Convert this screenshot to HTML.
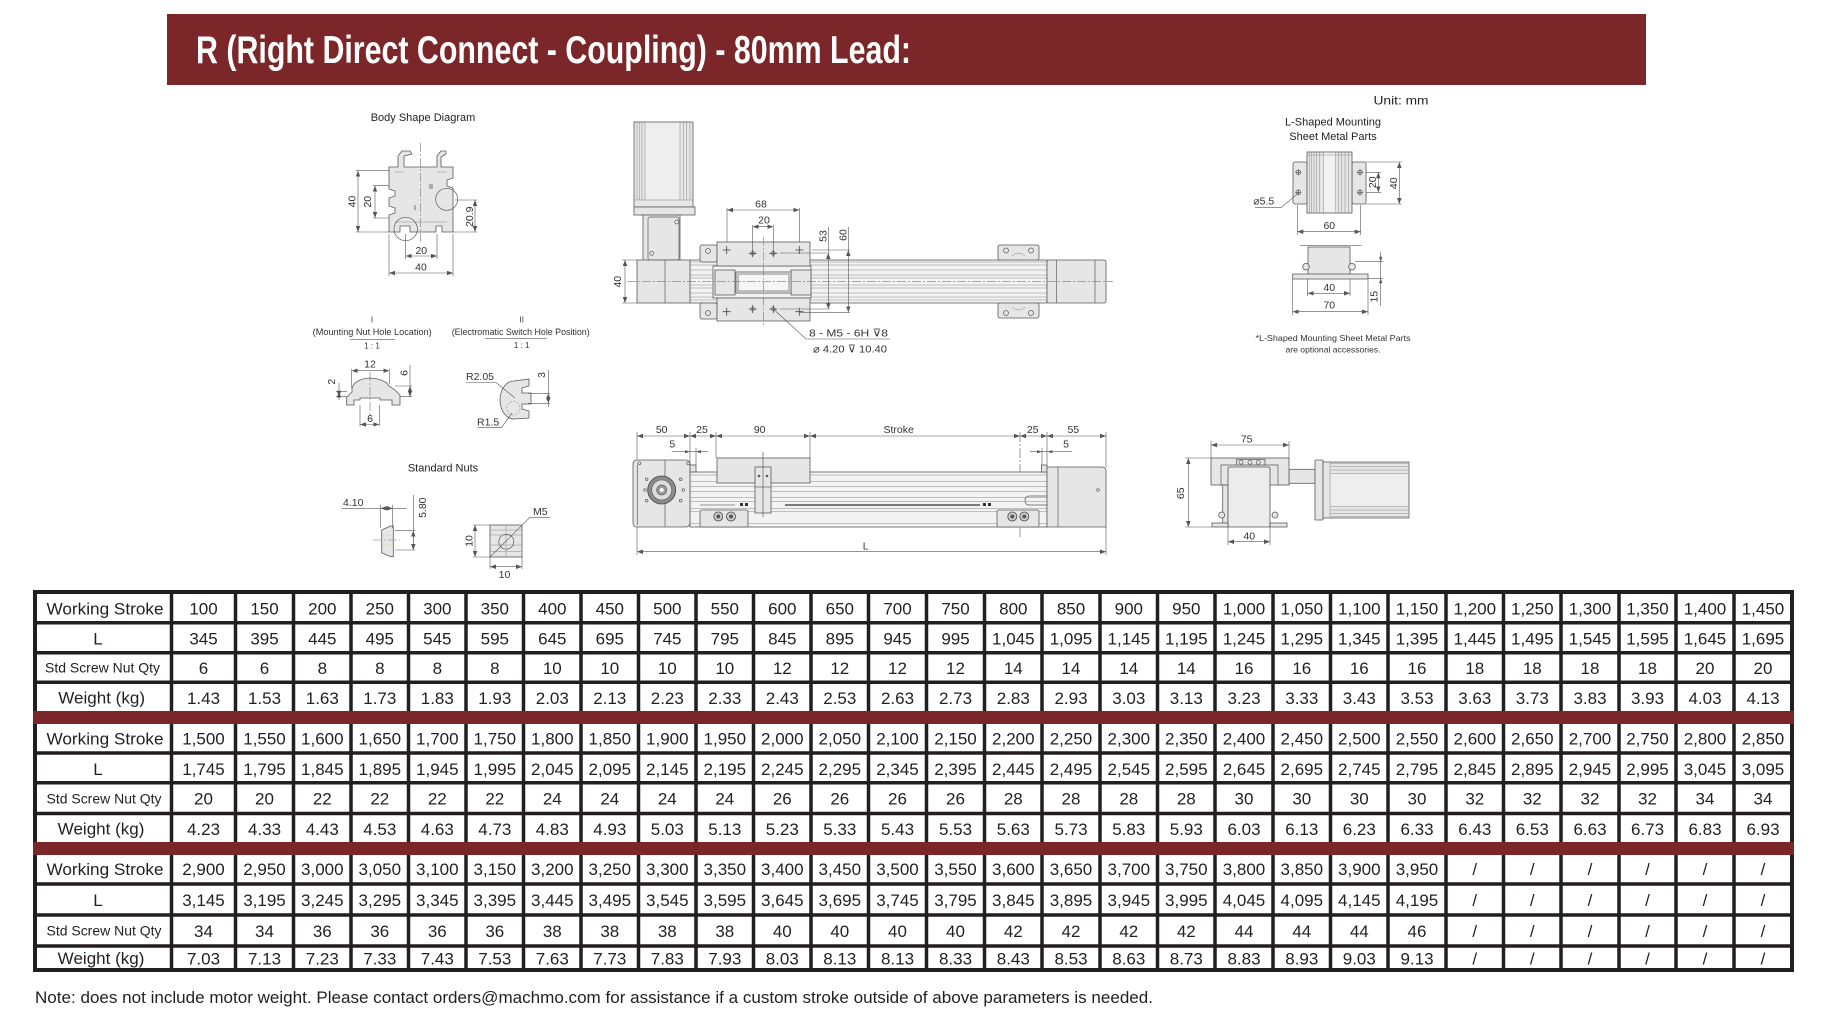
<!DOCTYPE html>
<html><head><meta charset="utf-8"><title>R (Right Direct Connect - Coupling) - 80mm Lead</title>
<style>
html,body{margin:0;padding:0;background:#fff;width:1826px;height:1020px;overflow:hidden}
svg{display:block}
.o{fill:#e6e6e6;stroke:#5a5a5a;stroke-width:.8}
.w{fill:#f3f3f3;stroke:#5a5a5a;stroke-width:.8}
.l{fill:none;stroke:#5a5a5a;stroke-width:.7}
.f{fill:none;stroke:#8a8a8a;stroke-width:.5}
.d{fill:none;stroke:#555;stroke-width:.6}
.da{fill:none;stroke:#555;stroke-width:.6;marker-start:url(#a);marker-end:url(#a)}
.c{fill:none;stroke:#777;stroke-width:.6;stroke-dasharray:9 2 2 2}
.t{font-family:"Liberation Sans","DejaVu Sans",sans-serif;font-size:10.5px;fill:#333}
.s{font-family:"Liberation Sans",sans-serif;font-size:11px;fill:#222}
.n{font-family:"Liberation Sans",sans-serif;font-size:17px;fill:#231f20;text-anchor:middle}
.lb{font-family:"Liberation Sans",sans-serif;font-size:17px;fill:#231f20}
.ls{font-family:"Liberation Sans",sans-serif;font-size:14px;fill:#231f20}
</style></head>
<body>
<svg width="1826" height="1020" viewBox="0 0 1826 1020" xmlns="http://www.w3.org/2000/svg">
<defs>
<marker id="a" viewBox="0 0 8 6" refX="8" refY="3" markerWidth="6" markerHeight="4.5" markerUnits="userSpaceOnUse" orient="auto-start-reverse"><path d="M0,0L8,3L0,6z" fill="#555"/></marker>
</defs>
<rect width="1826" height="1020" fill="#fff"/>

<!-- Header -->
<rect x="167" y="14" width="1479" height="71" fill="#7b2628"/>
<text x="196" y="63" font-family="Liberation Sans, sans-serif" font-size="39" font-weight="bold" fill="#fff" textLength="715" lengthAdjust="spacingAndGlyphs">R (Right Direct Connect - Coupling) - 80mm Lead:</text>

<!-- ============ Body shape diagram ============ -->
<text class="s" x="423" y="121" text-anchor="middle">Body Shape Diagram</text>
<path class="o" d="M389,167 L398,167 L398,156 L402,151 L410,151 L412,154 L404,156 L404,167 L437,167 L437,156 L441,151 L446,151 L446,154 L441,157 L441,167 L453,167 L453,178 L447,180 L447,186 L453,188 L453,232 L442,232 L442,226 L436,226 L436,232 L410,232 L410,226 L400,226 L400,232 L389,232 L389,215 L395,213 L395,208 L389,206 L389,198 L395,196 L395,191 L389,189 Z"/>
<path class="f" d="M395,172 L404,172 M437,172 L447,172 M395,222 L447,222"/>
<line class="c" x1="420.7" y1="143" x2="420.7" y2="243"/>
<circle class="l" cx="405.7" cy="229" r="11.7"/>
<circle class="l" cx="446.7" cy="199.3" r="11"/>
<text class="t" style="font-size:7px" x="414" y="210">I</text>
<text class="t" style="font-size:7px" x="429" y="189">II</text>
<path class="d" d="M356,170.7H389M356,232H389M373,185.7H389M373,218H389M455,200H477M453,232H477M405.7,234V259M437,234V259M389,234V276M453,234V276"/>
<line class="da" x1="358" y1="170.7" x2="358" y2="232"/>
<line class="da" x1="375" y1="185.7" x2="375" y2="218"/>
<line class="da" x1="475" y1="200" x2="475" y2="232"/>
<line class="da" x1="405.7" y1="256" x2="437" y2="256"/>
<line class="da" x1="389" y1="273" x2="453" y2="273"/>
<text class="t" text-anchor="middle" transform="translate(355.5,201.5) rotate(-90)">40</text>
<text class="t" text-anchor="middle" transform="translate(371,201.7) rotate(-90)">20</text>
<text class="t" text-anchor="middle" transform="translate(473,216.7) rotate(-90)">20.9</text>
<text class="t" x="421.3" y="254" text-anchor="middle">20</text>
<text class="t" x="421" y="270.7" text-anchor="middle">40</text>

<!-- detail labels -->
<text class="t" style="font-size:8px" x="372" y="322.5" text-anchor="middle">I</text>
<text class="t" style="font-size:9px" x="312.7" y="335" textLength="119" lengthAdjust="spacingAndGlyphs">(Mounting Nut Hole Location)</text>
<line class="d" x1="350" y1="339.3" x2="395" y2="339.3"/>
<text class="t" style="font-size:8px" x="372" y="348.3" text-anchor="middle">1 : 1</text>
<text class="t" style="font-size:8px" x="521.7" y="322.5" text-anchor="middle">II</text>
<text class="t" style="font-size:9px" x="451.7" y="335" textLength="138" lengthAdjust="spacingAndGlyphs">(Electromatic Switch Hole Position)</text>
<line class="d" x1="485" y1="338.3" x2="546.7" y2="338.3"/>
<text class="t" style="font-size:8px" x="521.7" y="348" text-anchor="middle">1 : 1</text>

<!-- detail I -->
<path class="o" d="M346.7,405 L346.7,397 L352,392 L352,388 Q355,379 370,378 Q385,379 389,386 L395,390 L400,395 L400,405 L392,405 L392,400 L380,400 L380,398 L360,398 L360,400 L354,400 L354,405 Z"/>
<line class="c" x1="370" y1="372" x2="370" y2="420"/>
<path class="d" d="M351.7,369V388M389.3,369V384M395,386H412M400,396.7H412M336,391.7H347M336,396.7H347M360,405V426M379.3,405V426"/>
<line class="da" x1="351.7" y1="370.7" x2="389.3" y2="370.7"/>
<line class="da" x1="410" y1="386" x2="410" y2="396.7"/>
<line class="d" x1="410" y1="365" x2="410" y2="386"/>
<line class="da" x1="339" y1="391.7" x2="339" y2="396.7"/>
<line class="d" x1="339" y1="383" x2="339" y2="400"/>
<line class="da" x1="360" y1="424.5" x2="379.3" y2="424.5"/>
<text class="t" x="370" y="367.5" text-anchor="middle">12</text>
<text class="t" text-anchor="middle" transform="translate(407.3,373) rotate(-90)">6</text>
<text class="t" text-anchor="middle" transform="translate(335,381.7) rotate(-90)">2</text>
<text class="t" x="370" y="422" text-anchor="middle">6</text>

<!-- detail II -->
<path class="o" d="M514,381 L529,379 L529,386 L522,388 L522,393 L531,393 L531,404 L522,404 L522,409 L529,411 L529,418 L514,419 A14,19 0 0 1 514,381 Z"/>
<circle cx="513.3" cy="408.3" r="6.7" fill="none" stroke="#777" stroke-width=".5" stroke-dasharray="2 1.5"/>
<path class="d" d="M466,382.5H496L515,398M477.7,427.3H501.7L512,413M528,393.3H550M528,403.3H550"/>
<line class="da" x1="548.3" y1="393.3" x2="548.3" y2="403.3"/>
<line class="d" x1="548.3" y1="370" x2="548.3" y2="407"/>
<text class="t" x="466" y="380">R2.05</text>
<text class="t" x="477" y="425.5">R1.5</text>
<text class="t" text-anchor="middle" transform="translate(545,375) rotate(-90)">3</text>

<!-- Standard nuts -->
<text class="s" x="443" y="471.7" text-anchor="middle">Standard Nuts</text>
<polygon class="o" points="381.7,530 390.7,526 393.3,526 393.3,556.7 390.7,556.7 381.7,552.7"/>
<line class="c" x1="373" y1="540" x2="400" y2="540"/>
<path d="M382,535H393M382,545H393" stroke="#d9d37a" stroke-width=".8" stroke-dasharray="2 1.5"/>
<path class="d" d="M380.7,505V528M392.7,505V528M395,530.7H415M395,550H415"/>
<line class="d" x1="341.7" y1="508.3" x2="406.7" y2="508.3"/>
<line class="da" x1="380.7" y1="508.3" x2="392.7" y2="508.3"/>
<line class="d" x1="413.3" y1="495" x2="413.3" y2="550"/>
<line class="da" x1="413.3" y1="530.7" x2="413.3" y2="550"/>
<text class="t" x="343" y="506">4.10</text>
<text class="t" text-anchor="middle" transform="translate(426,507.7) rotate(-90)">5.80</text>
<rect class="o" x="490" y="525" width="32" height="32"/>
<path class="f" d="M506,525V557M490,530H522M490,535H522M490,545H522M490,551.7H522"/>
<circle class="l" cx="506.3" cy="541.7" r="7.5"/>
<path class="d" d="M490,557L530,517.3H550M473,525H490M473,557H490M490,557V569M522,557V569"/>
<line class="da" x1="475" y1="525" x2="475" y2="557"/>
<line class="da" x1="490" y1="566.7" x2="522" y2="566.7"/>
<text class="t" x="533" y="515">M5</text>
<text class="t" text-anchor="middle" transform="translate(472.7,541) rotate(-90)">10</text>
<text class="t" x="504.5" y="578" text-anchor="middle">10</text>

<!-- ============ Middle top view ============ -->
<rect class="o" x="634" y="122" width="59" height="85"/>
<rect x="645.5" y="122.5" width="34" height="77" fill="#eeeeee"/>
<path class="f" d="M637,122V200M639.5,122V200M642,122V200M645,122V200M680,122V200M683.3,122V200M686.7,122V200M690,122V200M634,200H693"/>
<rect class="o" x="634" y="207" width="61" height="8"/>
<rect class="o" x="643" y="215" width="37" height="47"/>
<rect class="l" x="648" y="217" width="31" height="43" rx="2"/>
<circle class="l" cx="676.7" cy="222" r="2"/>
<circle class="l" cx="651.7" cy="253.3" r="2"/>

<rect class="w" x="690" y="260" width="357" height="43"/>
<path class="f" d="M690,262H1047M690,265H1047M690,270H1047M690,275H1047M690,278H1047M690,285H1047M690,288H1047M690,293H1047M690,297H1047M690,300H1047"/>
<rect class="o" x="637" y="260" width="53" height="43"/>
<line class="l" x1="665" y1="260" x2="665" y2="303"/>
<rect class="o" x="1047" y="260" width="59" height="43" rx="2"/>
<path class="l" d="M1056.7,260V303M1095,260V303"/>

<rect class="w" x="713" y="266" width="98" height="32"/>
<rect class="o" x="715" y="270" width="20" height="25"/>
<rect class="o" x="791" y="270" width="20" height="25"/>
<rect x="736" y="272" width="55" height="21" fill="#f6f6f6" stroke="#555" stroke-width=".8"/>
<rect class="l" x="738" y="274" width="51" height="17"/>
<rect class="o" x="700" y="245" width="17" height="17" rx="2"/>
<circle class="l" cx="708" cy="251" r="2.5"/>
<rect class="o" x="700" y="303" width="17" height="16" rx="2"/>
<circle class="l" cx="708" cy="313" r="2.5"/>
<rect class="o" x="717" y="242" width="93" height="24"/>
<rect class="o" x="717" y="298" width="93" height="23"/>
<path d="M722.7,250H730.7M726.7,246V254M748.7,253.3H756.7M752.7,249.3V257.3M769.3,253.3H777.3M773.3,249.3V257.3M795.3,250H803.3M799.3,246V254M722.7,311.7H730.7M726.7,307.7V315.7M748.7,309H756.7M752.7,305V313M769.3,309H777.3M773.3,305V313M795.3,311.7H803.3M799.3,307.7V315.7" stroke="#444" stroke-width=".8" fill="none"/>
<g class="l"><circle cx="752.7" cy="253.3" r="1.8"/><circle cx="773.3" cy="253.3" r="1.8"/><circle cx="752.7" cy="309" r="1.8"/><circle cx="773.3" cy="309" r="1.8"/></g>
<line class="c" x1="763.3" y1="236.7" x2="763.3" y2="326.7"/>
<line class="c" x1="627" y1="281.7" x2="1113" y2="281.7"/>

<rect class="o" x="998" y="245" width="41" height="15" rx="2"/>
<rect class="o" x="998" y="303" width="41" height="15" rx="2"/>
<g class="l"><circle cx="1006" cy="250.5" r="2.5"/><circle cx="1031" cy="250.5" r="2.5"/><circle cx="1006" cy="313" r="2.5"/><circle cx="1031" cy="313" r="2.5"/></g>
<path class="f" d="M1012,256Q1018.5,250 1025,256M1012,307Q1018.5,313 1025,307"/>

<path class="d" d="M727,208V242M799.3,208V242M752.7,225V249M773.3,225V249M828.3,227V252M848.3,227V250M780,253H830M811.7,250H850M780,309H830M800,312.3H850M622,260H637M622,303H637"/>
<line class="da" x1="727" y1="210" x2="799.3" y2="210"/>
<line class="da" x1="752.7" y1="226.7" x2="773.3" y2="226.7"/>
<line class="da" x1="828.3" y1="253" x2="828.3" y2="309"/>
<line class="da" x1="848.3" y1="250" x2="848.3" y2="312.3"/>
<line class="da" x1="625" y1="260" x2="625" y2="303"/>
<text class="t" x="761" y="207.5" text-anchor="middle">68</text>
<text class="t" x="764" y="223.3" text-anchor="middle">20</text>
<text class="t" text-anchor="middle" transform="translate(826.5,236) rotate(-90)">53</text>
<text class="t" text-anchor="middle" transform="translate(846.5,235) rotate(-90)">60</text>
<text class="t" text-anchor="middle" transform="translate(621,281.7) rotate(-90)">40</text>
<path class="d" d="M773.3,309L806,339H890"/>
<text class="t" x="809" y="336.5" textLength="79" lengthAdjust="spacingAndGlyphs">8 - M5 - 6H ⊽8</text>
<text class="t" x="813" y="352.5" textLength="74" lengthAdjust="spacingAndGlyphs">⌀ 4.20 ⊽ 10.40</text>

<!-- ============ Middle bottom view ============ -->
<path class="d" d="M637,432V462M690,432V470M716,432V458M810,432V458M1047,432V467M1106,432V467M696,448V466M1042,448V466"/>
<line x1="1020" y1="432" x2="1020" y2="537" stroke="#555" stroke-width=".6" stroke-dasharray="10 2 2 2"/>
<line class="da" x1="637" y1="436" x2="690" y2="436"/>
<line class="da" x1="690" y1="436" x2="716" y2="436"/>
<line class="da" x1="716" y1="436" x2="810" y2="436"/>
<line class="da" x1="810" y1="436" x2="1020" y2="436"/>
<line class="da" x1="1020" y1="436" x2="1047" y2="436"/>
<line class="da" x1="1047" y1="436" x2="1106" y2="436"/>
<text class="t" x="661.7" y="433" text-anchor="middle">50</text>
<text class="t" x="702" y="433" text-anchor="middle">25</text>
<text class="t" x="759.7" y="433" text-anchor="middle">90</text>
<text class="t" x="898.7" y="433" text-anchor="middle">Stroke</text>
<text class="t" x="1032.7" y="433" text-anchor="middle">25</text>
<text class="t" x="1073.3" y="433" text-anchor="middle">55</text>
<path class="d" d="M671.7,451.7H708M1030,451.7H1071.7"/>
<path d="M690,451.7l-5,-1.6v3.2zM696,451.7l5,-1.6v3.2zM1042,451.7l-5,-1.6v3.2zM1047.3,451.7l5,-1.6v3.2z" fill="#555"/>
<text class="t" x="672.3" y="447.5" text-anchor="middle">5</text>
<text class="t" x="1066" y="447.5" text-anchor="middle">5</text>

<rect class="w" x="690" y="472" width="357" height="55"/>
<rect class="o" x="690" y="465" width="6" height="7"/>
<rect class="o" x="1041.5" y="465" width="5.5" height="7"/>
<path class="f" d="M690,475H1047M690,481.7H1047M690,486.7H1047M690,491.7H1047M690,497.3H1047M690,501.7H1047M690,508.3H1047M690,511.7H1047M690,523.3H1047"/>
<line x1="785" y1="505" x2="980" y2="505" stroke="#333" stroke-width="1.2"/>
<line x1="700" y1="505" x2="735" y2="505" stroke="#777" stroke-width=".8"/>
<path d="M740,503h3v3h-3zM745,503h3v3h-3zM755,503h2v3h-2zM983,503h3v3h-3zM988,503h3v3h-3z" fill="#333"/>
<rect class="l" x="1025" y="496" width="28" height="9" rx="4"/>
<rect class="o" x="633" y="460" width="57" height="67" rx="4"/>
<path class="l" d="M637.3,465V525M665,460V527"/>
<circle cx="661.7" cy="490" r="14" fill="#8a8a8a" stroke="#444" stroke-width=".8"/>
<circle cx="661.7" cy="490" r="10" fill="#dcdcdc" stroke="#555" stroke-width=".6"/>
<circle cx="661.7" cy="490" r="5" fill="#9a9a9a" stroke="#444" stroke-width=".6"/>
<circle cx="661.7" cy="490" r="2" fill="#fff"/>
<g class="l"><circle cx="646.7" cy="479.3" r="1.3"/><circle cx="680.7" cy="479.3" r="1.3"/><circle cx="645" cy="490" r="1.3"/><circle cx="683.3" cy="490" r="1.3"/><circle cx="646.7" cy="500.7" r="1.3"/><circle cx="680.7" cy="500.7" r="1.3"/><circle cx="639.3" cy="463.3" r="1.5"/><circle cx="688.3" cy="463.3" r="1.5"/></g>
<rect class="o" x="717" y="458" width="93" height="25"/>
<rect class="o" x="755" y="467" width="16" height="46"/>
<line class="l" x1="755" y1="487" x2="771" y2="487"/>
<circle cx="759" cy="476" r="1.3" fill="#555"/><circle cx="767" cy="476" r="1.3" fill="#555"/>
<line class="l" x1="763" y1="452" x2="763" y2="517"/>
<rect class="o" x="700" y="510" width="48" height="17" rx="2"/>
<rect class="o" x="997" y="510" width="42" height="17" rx="2"/>
<g fill="#cfcfcf" stroke="#444" stroke-width=".8"><circle cx="718.3" cy="516.5" r="4.5"/><circle cx="731" cy="516.5" r="4.5"/><circle cx="1012.3" cy="516.5" r="4.5"/><circle cx="1024.3" cy="516.5" r="4.5"/></g>
<g fill="#555"><circle cx="718.3" cy="516.5" r="2"/><circle cx="731" cy="516.5" r="2"/><circle cx="1012.3" cy="516.5" r="2"/><circle cx="1024.3" cy="516.5" r="2"/></g>
<path class="o" d="M1047,467 L1102,467 Q1106,467 1106,471 L1106,527 L1047,527 Z"/>
<line class="l" x1="1058" y1="467" x2="1058" y2="527"/>
<circle class="l" cx="1098" cy="490" r="1.3"/>
<path class="d" d="M637,527V555M1106,527V555"/>
<line class="da" x1="637" y1="551.7" x2="1106" y2="551.7"/>
<text class="t" x="865.7" y="549.5" text-anchor="middle">L</text>

<!-- ============ Right top ============ -->
<text class="s" style="font-size:12px" x="1373.5" y="104.3" textLength="55" lengthAdjust="spacingAndGlyphs">Unit: mm</text>
<text class="s" x="1333" y="125.7" text-anchor="middle">L-Shaped Mounting</text>
<text class="s" x="1333" y="140" text-anchor="middle">Sheet Metal Parts</text>
<rect class="o" x="1293" y="162" width="14" height="42" rx="2"/>
<rect class="o" x="1352" y="162" width="14" height="42" rx="2"/>
<rect class="o" x="1307" y="152" width="45" height="61"/>
<rect x="1323.8" y="152.5" width="11.5" height="60" fill="#f2f2f2"/>
<path class="f" d="M1309.3,152V213M1311.7,152V213M1314,152V213M1316.7,152V213M1319.3,152V213M1323.3,152V213M1335.7,152V213M1338.3,152V213M1341.7,152V213M1345,152V213M1348.3,152V213M1307,155H1352"/>
<path d="M1295.3,172.3H1301.3M1298.3,169.3V175.3M1295.3,192.3H1301.3M1298.3,189.3V195.3M1357,172.3H1363M1360,169.3V175.3M1357,192.3H1363M1360,189.3V195.3" stroke="#444" stroke-width=".7"/>
<g class="l"><circle cx="1298.3" cy="172.3" r="2.3"/><circle cx="1298.3" cy="192.3" r="2.3"/><circle cx="1360" cy="172.3" r="2.3"/><circle cx="1360" cy="192.3" r="2.3"/></g>
<path class="d" d="M1366,172.3H1381M1366,192.3H1381M1366,162H1402M1366,204H1402M1297.3,205V235M1360.7,205V235M1255,207.7H1281L1299.3,192.3"/>
<line class="da" x1="1378.3" y1="172.3" x2="1378.3" y2="192.3"/>
<line class="da" x1="1399.3" y1="162" x2="1399.3" y2="204"/>
<line class="da" x1="1297.3" y1="231.7" x2="1360.7" y2="231.7"/>
<text class="t" text-anchor="middle" transform="translate(1376,182.3) rotate(-90)">20</text>
<text class="t" text-anchor="middle" transform="translate(1397,183.3) rotate(-90)">40</text>
<text class="t" x="1253.3" y="204.3">⌀5.5</text>
<text class="t" x="1329.3" y="229" text-anchor="middle">60</text>

<line class="l" x1="1300" y1="245.7" x2="1361.7" y2="245.7"/>
<rect class="o" x="1308" y="247" width="42" height="30"/>
<circle class="o" cx="1306" cy="266.7" r="3.3"/>
<circle class="o" cx="1352" cy="266.7" r="3.3"/>
<rect class="o" x="1292.7" y="274" width="75.3" height="5"/>
<path class="d" d="M1307.7,279V296M1350,279V296M1292.7,279V315M1368,279V315M1355,261.7H1383M1368,278.3H1383M1380.7,252V306"/>
<line class="da" x1="1307.7" y1="293.3" x2="1350" y2="293.3"/>
<line class="da" x1="1292.7" y1="311.7" x2="1368" y2="311.7"/>
<path d="M1380.7,261.7l-1.6,-5h3.2zM1380.7,278.3l-1.6,5h3.2z" fill="#555"/>
<text class="t" x="1329.3" y="291" text-anchor="middle">40</text>
<text class="t" x="1329.3" y="308.3" text-anchor="middle">70</text>
<text class="t" text-anchor="middle" transform="translate(1377.3,296.7) rotate(-90)">15</text>
<text class="t" style="font-size:8.5px" x="1333" y="341" text-anchor="middle" textLength="155" lengthAdjust="spacingAndGlyphs">*L-Shaped Mounting Sheet Metal Parts</text>
<text class="t" style="font-size:8.5px" x="1333" y="352.7" text-anchor="middle" textLength="95" lengthAdjust="spacingAndGlyphs">are optional accessories.</text>

<!-- ============ Right bottom ============ -->
<path class="d" d="M1211,441V458M1289,441V458M1185,458H1211M1185,527H1212M1228,527V545M1270,527V545"/>
<line class="da" x1="1211" y1="445" x2="1289" y2="445"/>
<line class="da" x1="1188.3" y1="458" x2="1188.3" y2="527"/>
<line class="da" x1="1228" y1="541.7" x2="1270" y2="541.7"/>
<text class="t" x="1246.7" y="442.7" text-anchor="middle">75</text>
<text class="t" text-anchor="middle" transform="translate(1184,493.3) rotate(-90)">65</text>
<text class="t" x="1249.3" y="539.3" text-anchor="middle">40</text>
<rect class="o" x="1289" y="469.3" width="26" height="14"/>
<rect class="o" x="1211" y="458" width="78" height="27"/>
<path class="l" d="M1221,485V465H1278V485"/>
<rect class="o" x="1236.7" y="459.3" width="28.3" height="5.7"/>
<g class="l"><circle cx="1241" cy="462.2" r="2"/><circle cx="1250" cy="462.2" r="2"/><circle cx="1258.3" cy="462.2" r="2"/></g>
<rect class="o" x="1222.7" y="485" width="5.3" height="40"/>
<circle class="o" cx="1221.7" cy="515" r="3"/>
<circle class="o" cx="1275" cy="515" r="3"/>
<rect x="1228" y="467" width="42" height="60" rx="1.5" fill="#ececec" stroke="#555" stroke-width=".8"/>
<rect class="o" x="1212" y="523" width="16" height="4"/>
<rect class="o" x="1270" y="523" width="17" height="4"/>
<rect class="o" x="1315" y="460" width="8" height="60" rx="1"/>
<rect class="o" x="1323" y="462" width="86" height="56"/>
<rect x="1331" y="474" width="77" height="32" fill="#eeeeee"/>
<path class="f" d="M1330,462V518M1330,463.3H1408M1330,466.7H1408M1330,470H1408M1330,473.3H1408M1330,506.7H1408M1330,510H1408M1330,513.3H1408M1330,516.7H1408"/>

<!-- ============ TABLE ============ -->
<rect x="33" y="590" width="1761" height="382" fill="#231f20"/>
<rect x="37" y="594" width="1753" height="374" fill="#fff"/>
<path stroke="#231f20" stroke-width="3.5" fill="none" d="M171.5,594V968M235.5,594V968M293.5,594V968M351,594V968M408.5,594V968M466,594V968M523.5,594V968M581,594V968M638.5,594V968M696,594V968M753.5,594V968M811,594V968M868.5,594V968M926.5,594V968M984.5,594V968M1042,594V968M1100,594V968M1157.5,594V968M1215,594V968M1273,594V968M1330.5,594V968M1388,594V968M1446,594V968M1503.5,594V968M1561,594V968M1619,594V968M1676,594V968M1734,594V968"/>
<path stroke="#231f20" stroke-width="3.5" fill="none" d="M37,622.7H1790M37,652.7H1790M37,682.2H1790M37,753H1790M37,782.7H1790M37,813.5H1790M37,884H1790M37,915H1790M37,946H1790"/>
<rect x="33" y="711" width="1761" height="13" fill="#7b2628"/>
<rect x="33" y="842" width="1761" height="13" fill="#7b2628"/>

<!-- labels -->
<text class="lb" x="46.5" y="614.5" textLength="117" lengthAdjust="spacingAndGlyphs">Working Stroke</text>
<text class="lb" x="98" y="644.5" text-anchor="middle">L</text>
<text class="ls" x="45" y="672.5" textLength="115" lengthAdjust="spacingAndGlyphs">Std Screw Nut Qty</text>
<text class="lb" x="58.3" y="703.5" textLength="86.7" lengthAdjust="spacingAndGlyphs">Weight (kg)</text>
<text class="lb" x="46.5" y="744.5" textLength="117" lengthAdjust="spacingAndGlyphs">Working Stroke</text>
<text class="lb" x="98" y="775" text-anchor="middle">L</text>
<text class="ls" x="46.5" y="803.5" textLength="115" lengthAdjust="spacingAndGlyphs">Std Screw Nut Qty</text>
<text class="lb" x="57.7" y="834.5" textLength="86.7" lengthAdjust="spacingAndGlyphs">Weight (kg)</text>
<text class="lb" x="46.5" y="875" textLength="117" lengthAdjust="spacingAndGlyphs">Working Stroke</text>
<text class="lb" x="98" y="906" text-anchor="middle">L</text>
<text class="ls" x="46.5" y="935.5" textLength="115" lengthAdjust="spacingAndGlyphs">Std Screw Nut Qty</text>
<text class="lb" x="57.7" y="964" textLength="86.7" lengthAdjust="spacingAndGlyphs">Weight (kg)</text>

<!-- R1 -->
<text class="n" y="614.5"><tspan x="203.5">100</tspan><tspan x="264.5">150</tspan><tspan x="322.3">200</tspan><tspan x="379.8">250</tspan><tspan x="437.3">300</tspan><tspan x="494.8">350</tspan><tspan x="552.3">400</tspan><tspan x="609.8">450</tspan><tspan x="667.3">500</tspan><tspan x="724.8">550</tspan><tspan x="782.3">600</tspan><tspan x="839.8">650</tspan><tspan x="897.5">700</tspan><tspan x="955.5">750</tspan><tspan x="1013.3">800</tspan><tspan x="1071">850</tspan><tspan x="1128.8">900</tspan><tspan x="1186.3">950</tspan><tspan x="1244">1,000</tspan><tspan x="1301.8">1,050</tspan><tspan x="1359.3">1,100</tspan><tspan x="1417">1,150</tspan><tspan x="1474.8">1,200</tspan><tspan x="1532.3">1,250</tspan><tspan x="1590">1,300</tspan><tspan x="1647.5">1,350</tspan><tspan x="1705">1,400</tspan><tspan x="1763">1,450</tspan></text>
<!-- R2 -->
<text class="n" y="644.5"><tspan x="203.5">345</tspan><tspan x="264.5">395</tspan><tspan x="322.3">445</tspan><tspan x="379.8">495</tspan><tspan x="437.3">545</tspan><tspan x="494.8">595</tspan><tspan x="552.3">645</tspan><tspan x="609.8">695</tspan><tspan x="667.3">745</tspan><tspan x="724.8">795</tspan><tspan x="782.3">845</tspan><tspan x="839.8">895</tspan><tspan x="897.5">945</tspan><tspan x="955.5">995</tspan><tspan x="1013.3">1,045</tspan><tspan x="1071">1,095</tspan><tspan x="1128.8">1,145</tspan><tspan x="1186.3">1,195</tspan><tspan x="1244">1,245</tspan><tspan x="1301.8">1,295</tspan><tspan x="1359.3">1,345</tspan><tspan x="1417">1,395</tspan><tspan x="1474.8">1,445</tspan><tspan x="1532.3">1,495</tspan><tspan x="1590">1,545</tspan><tspan x="1647.5">1,595</tspan><tspan x="1705">1,645</tspan><tspan x="1763">1,695</tspan></text>
<!-- R3 -->
<text class="n" y="674"><tspan x="203.5">6</tspan><tspan x="264.5">6</tspan><tspan x="322.3">8</tspan><tspan x="379.8">8</tspan><tspan x="437.3">8</tspan><tspan x="494.8">8</tspan><tspan x="552.3">10</tspan><tspan x="609.8">10</tspan><tspan x="667.3">10</tspan><tspan x="724.8">10</tspan><tspan x="782.3">12</tspan><tspan x="839.8">12</tspan><tspan x="897.5">12</tspan><tspan x="955.5">12</tspan><tspan x="1013.3">14</tspan><tspan x="1071">14</tspan><tspan x="1128.8">14</tspan><tspan x="1186.3">14</tspan><tspan x="1244">16</tspan><tspan x="1301.8">16</tspan><tspan x="1359.3">16</tspan><tspan x="1417">16</tspan><tspan x="1474.8">18</tspan><tspan x="1532.3">18</tspan><tspan x="1590">18</tspan><tspan x="1647.5">18</tspan><tspan x="1705">20</tspan><tspan x="1763">20</tspan></text>
<!-- R4 -->
<text class="n" y="704"><tspan x="203.5">1.43</tspan><tspan x="264.5">1.53</tspan><tspan x="322.3">1.63</tspan><tspan x="379.8">1.73</tspan><tspan x="437.3">1.83</tspan><tspan x="494.8">1.93</tspan><tspan x="552.3">2.03</tspan><tspan x="609.8">2.13</tspan><tspan x="667.3">2.23</tspan><tspan x="724.8">2.33</tspan><tspan x="782.3">2.43</tspan><tspan x="839.8">2.53</tspan><tspan x="897.5">2.63</tspan><tspan x="955.5">2.73</tspan><tspan x="1013.3">2.83</tspan><tspan x="1071">2.93</tspan><tspan x="1128.8">3.03</tspan><tspan x="1186.3">3.13</tspan><tspan x="1244">3.23</tspan><tspan x="1301.8">3.33</tspan><tspan x="1359.3">3.43</tspan><tspan x="1417">3.53</tspan><tspan x="1474.8">3.63</tspan><tspan x="1532.3">3.73</tspan><tspan x="1590">3.83</tspan><tspan x="1647.5">3.93</tspan><tspan x="1705">4.03</tspan><tspan x="1763">4.13</tspan></text>
<!-- R5 -->
<text class="n" y="744.5"><tspan x="203.5">1,500</tspan><tspan x="264.5">1,550</tspan><tspan x="322.3">1,600</tspan><tspan x="379.8">1,650</tspan><tspan x="437.3">1,700</tspan><tspan x="494.8">1,750</tspan><tspan x="552.3">1,800</tspan><tspan x="609.8">1,850</tspan><tspan x="667.3">1,900</tspan><tspan x="724.8">1,950</tspan><tspan x="782.3">2,000</tspan><tspan x="839.8">2,050</tspan><tspan x="897.5">2,100</tspan><tspan x="955.5">2,150</tspan><tspan x="1013.3">2,200</tspan><tspan x="1071">2,250</tspan><tspan x="1128.8">2,300</tspan><tspan x="1186.3">2,350</tspan><tspan x="1244">2,400</tspan><tspan x="1301.8">2,450</tspan><tspan x="1359.3">2,500</tspan><tspan x="1417">2,550</tspan><tspan x="1474.8">2,600</tspan><tspan x="1532.3">2,650</tspan><tspan x="1590">2,700</tspan><tspan x="1647.5">2,750</tspan><tspan x="1705">2,800</tspan><tspan x="1763">2,850</tspan></text>
<!-- R6 -->
<text class="n" y="775"><tspan x="203.5">1,745</tspan><tspan x="264.5">1,795</tspan><tspan x="322.3">1,845</tspan><tspan x="379.8">1,895</tspan><tspan x="437.3">1,945</tspan><tspan x="494.8">1,995</tspan><tspan x="552.3">2,045</tspan><tspan x="609.8">2,095</tspan><tspan x="667.3">2,145</tspan><tspan x="724.8">2,195</tspan><tspan x="782.3">2,245</tspan><tspan x="839.8">2,295</tspan><tspan x="897.5">2,345</tspan><tspan x="955.5">2,395</tspan><tspan x="1013.3">2,445</tspan><tspan x="1071">2,495</tspan><tspan x="1128.8">2,545</tspan><tspan x="1186.3">2,595</tspan><tspan x="1244">2,645</tspan><tspan x="1301.8">2,695</tspan><tspan x="1359.3">2,745</tspan><tspan x="1417">2,795</tspan><tspan x="1474.8">2,845</tspan><tspan x="1532.3">2,895</tspan><tspan x="1590">2,945</tspan><tspan x="1647.5">2,995</tspan><tspan x="1705">3,045</tspan><tspan x="1763">3,095</tspan></text>
<!-- R7 -->
<text class="n" y="804.5"><tspan x="203.5">20</tspan><tspan x="264.5">20</tspan><tspan x="322.3">22</tspan><tspan x="379.8">22</tspan><tspan x="437.3">22</tspan><tspan x="494.8">22</tspan><tspan x="552.3">24</tspan><tspan x="609.8">24</tspan><tspan x="667.3">24</tspan><tspan x="724.8">24</tspan><tspan x="782.3">26</tspan><tspan x="839.8">26</tspan><tspan x="897.5">26</tspan><tspan x="955.5">26</tspan><tspan x="1013.3">28</tspan><tspan x="1071">28</tspan><tspan x="1128.8">28</tspan><tspan x="1186.3">28</tspan><tspan x="1244">30</tspan><tspan x="1301.8">30</tspan><tspan x="1359.3">30</tspan><tspan x="1417">30</tspan><tspan x="1474.8">32</tspan><tspan x="1532.3">32</tspan><tspan x="1590">32</tspan><tspan x="1647.5">32</tspan><tspan x="1705">34</tspan><tspan x="1763">34</tspan></text>
<!-- R8 -->
<text class="n" y="835"><tspan x="203.5">4.23</tspan><tspan x="264.5">4.33</tspan><tspan x="322.3">4.43</tspan><tspan x="379.8">4.53</tspan><tspan x="437.3">4.63</tspan><tspan x="494.8">4.73</tspan><tspan x="552.3">4.83</tspan><tspan x="609.8">4.93</tspan><tspan x="667.3">5.03</tspan><tspan x="724.8">5.13</tspan><tspan x="782.3">5.23</tspan><tspan x="839.8">5.33</tspan><tspan x="897.5">5.43</tspan><tspan x="955.5">5.53</tspan><tspan x="1013.3">5.63</tspan><tspan x="1071">5.73</tspan><tspan x="1128.8">5.83</tspan><tspan x="1186.3">5.93</tspan><tspan x="1244">6.03</tspan><tspan x="1301.8">6.13</tspan><tspan x="1359.3">6.23</tspan><tspan x="1417">6.33</tspan><tspan x="1474.8">6.43</tspan><tspan x="1532.3">6.53</tspan><tspan x="1590">6.63</tspan><tspan x="1647.5">6.73</tspan><tspan x="1705">6.83</tspan><tspan x="1763">6.93</tspan></text>
<!-- R9 -->
<text class="n" y="875"><tspan x="203.5">2,900</tspan><tspan x="264.5">2,950</tspan><tspan x="322.3">3,000</tspan><tspan x="379.8">3,050</tspan><tspan x="437.3">3,100</tspan><tspan x="494.8">3,150</tspan><tspan x="552.3">3,200</tspan><tspan x="609.8">3,250</tspan><tspan x="667.3">3,300</tspan><tspan x="724.8">3,350</tspan><tspan x="782.3">3,400</tspan><tspan x="839.8">3,450</tspan><tspan x="897.5">3,500</tspan><tspan x="955.5">3,550</tspan><tspan x="1013.3">3,600</tspan><tspan x="1071">3,650</tspan><tspan x="1128.8">3,700</tspan><tspan x="1186.3">3,750</tspan><tspan x="1244">3,800</tspan><tspan x="1301.8">3,850</tspan><tspan x="1359.3">3,900</tspan><tspan x="1417">3,950</tspan><tspan x="1474.8">/</tspan><tspan x="1532.3">/</tspan><tspan x="1590">/</tspan><tspan x="1647.5">/</tspan><tspan x="1705">/</tspan><tspan x="1763">/</tspan></text>
<!-- R10 -->
<text class="n" y="906"><tspan x="203.5">3,145</tspan><tspan x="264.5">3,195</tspan><tspan x="322.3">3,245</tspan><tspan x="379.8">3,295</tspan><tspan x="437.3">3,345</tspan><tspan x="494.8">3,395</tspan><tspan x="552.3">3,445</tspan><tspan x="609.8">3,495</tspan><tspan x="667.3">3,545</tspan><tspan x="724.8">3,595</tspan><tspan x="782.3">3,645</tspan><tspan x="839.8">3,695</tspan><tspan x="897.5">3,745</tspan><tspan x="955.5">3,795</tspan><tspan x="1013.3">3,845</tspan><tspan x="1071">3,895</tspan><tspan x="1128.8">3,945</tspan><tspan x="1186.3">3,995</tspan><tspan x="1244">4,045</tspan><tspan x="1301.8">4,095</tspan><tspan x="1359.3">4,145</tspan><tspan x="1417">4,195</tspan><tspan x="1474.8">/</tspan><tspan x="1532.3">/</tspan><tspan x="1590">/</tspan><tspan x="1647.5">/</tspan><tspan x="1705">/</tspan><tspan x="1763">/</tspan></text>
<!-- R11 -->
<text class="n" y="937"><tspan x="203.5">34</tspan><tspan x="264.5">34</tspan><tspan x="322.3">36</tspan><tspan x="379.8">36</tspan><tspan x="437.3">36</tspan><tspan x="494.8">36</tspan><tspan x="552.3">38</tspan><tspan x="609.8">38</tspan><tspan x="667.3">38</tspan><tspan x="724.8">38</tspan><tspan x="782.3">40</tspan><tspan x="839.8">40</tspan><tspan x="897.5">40</tspan><tspan x="955.5">40</tspan><tspan x="1013.3">42</tspan><tspan x="1071">42</tspan><tspan x="1128.8">42</tspan><tspan x="1186.3">42</tspan><tspan x="1244">44</tspan><tspan x="1301.8">44</tspan><tspan x="1359.3">44</tspan><tspan x="1417">46</tspan><tspan x="1474.8">/</tspan><tspan x="1532.3">/</tspan><tspan x="1590">/</tspan><tspan x="1647.5">/</tspan><tspan x="1705">/</tspan><tspan x="1763">/</tspan></text>
<!-- R12 -->
<text class="n" y="964.5"><tspan x="203.5">7.03</tspan><tspan x="264.5">7.13</tspan><tspan x="322.3">7.23</tspan><tspan x="379.8">7.33</tspan><tspan x="437.3">7.43</tspan><tspan x="494.8">7.53</tspan><tspan x="552.3">7.63</tspan><tspan x="609.8">7.73</tspan><tspan x="667.3">7.83</tspan><tspan x="724.8">7.93</tspan><tspan x="782.3">8.03</tspan><tspan x="839.8">8.13</tspan><tspan x="897.5">8.13</tspan><tspan x="955.5">8.33</tspan><tspan x="1013.3">8.43</tspan><tspan x="1071">8.53</tspan><tspan x="1128.8">8.63</tspan><tspan x="1186.3">8.73</tspan><tspan x="1244">8.83</tspan><tspan x="1301.8">8.93</tspan><tspan x="1359.3">9.03</tspan><tspan x="1417">9.13</tspan><tspan x="1474.8">/</tspan><tspan x="1532.3">/</tspan><tspan x="1590">/</tspan><tspan x="1647.5">/</tspan><tspan x="1705">/</tspan><tspan x="1763">/</tspan></text>

<!-- Note -->
<text x="35" y="1003" font-family="Liberation Sans, sans-serif" font-size="16.5" fill="#231f20" textLength="1118" lengthAdjust="spacingAndGlyphs">Note: does not include motor weight. Please contact orders@machmo.com for assistance if a custom stroke outside of above parameters is needed.</text>
</svg>
</body></html>
